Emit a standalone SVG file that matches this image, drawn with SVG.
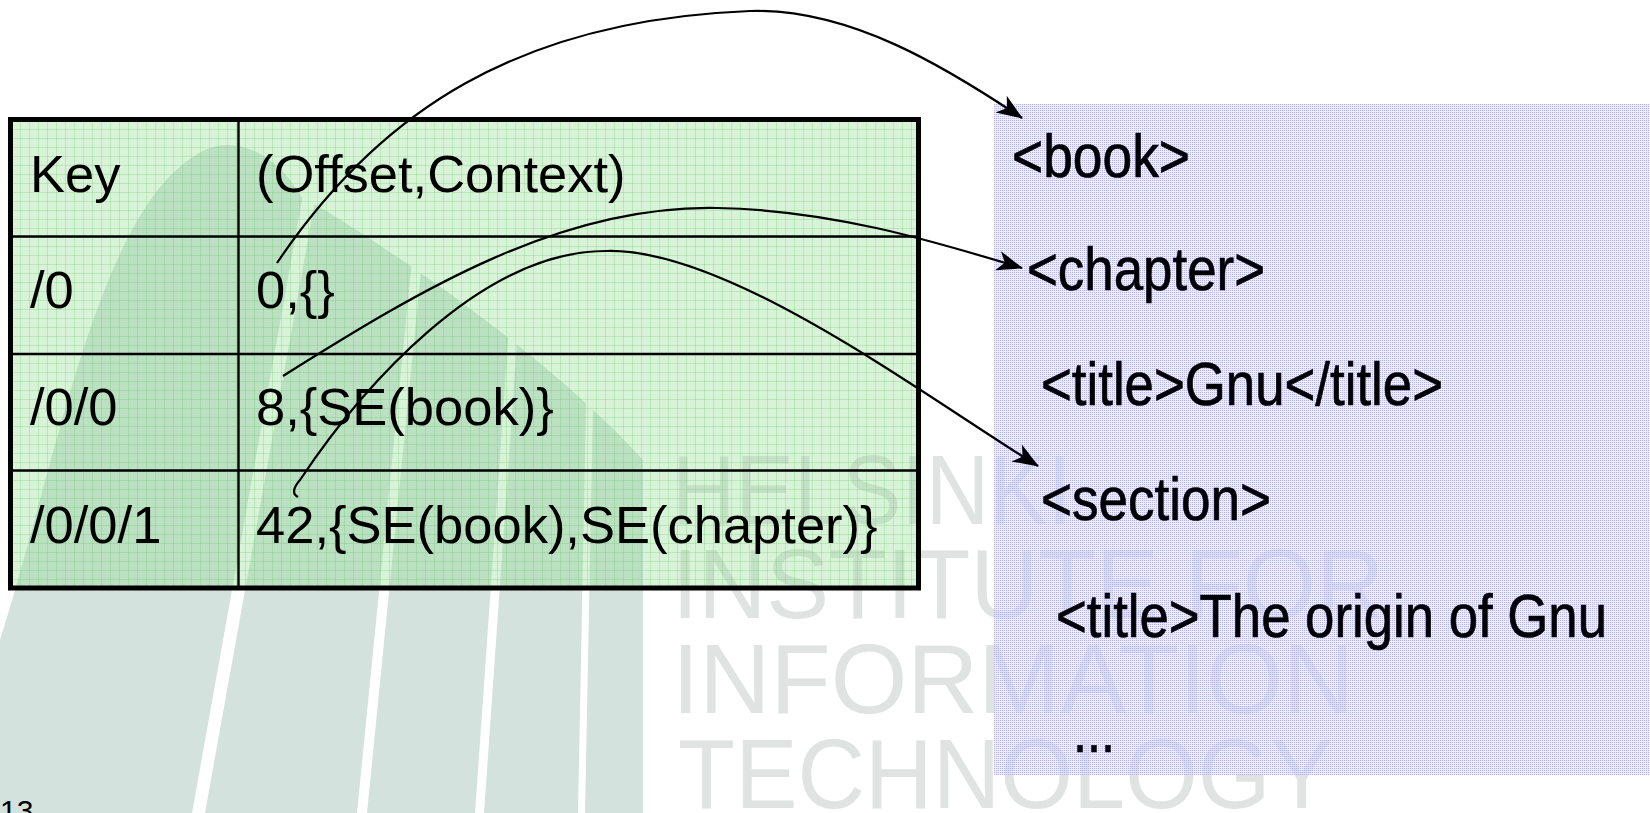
<svg xmlns="http://www.w3.org/2000/svg" width="1650" height="813" viewBox="0 0 1650 813">
  <defs>
    <style>
      .cell { font-family: "Liberation Sans", Arial, sans-serif; font-size: 52.5px; fill: #000; }
      .xml { font-family: "Liberation Sans Narrow", "Liberation Sans", Arial, sans-serif; font-size: 62px; fill: #000; stroke: #000; stroke-width: 0.7px; }
      .wm { font-family: "Liberation Sans", Arial, sans-serif; font-size: 99px; fill: #e0e3e2; }
      .logo { fill: #d3e2dc; }
      .gap { fill: #fff; }
      .rule { stroke: #000; stroke-width: 2.4; fill: none; }
      .link { fill: none; stroke: #000; stroke-width: 2.2; marker-end: url(#arrow); }
    </style>
    <!-- faint grid on the index table -->
    <pattern id="grid" width="9" height="9" patternUnits="userSpaceOnUse" x="11" y="120">
      <rect width="9" height="9" fill="rgb(138,218,138)" fill-opacity="0.33"/>
      <path d="M0,0.5 H9 M0.5,0 V9" stroke="rgb(110,205,110)" stroke-opacity="0.3" stroke-width="1"/>
    </pattern>
    <!-- dotted lavender fill for the document panel -->
    <pattern id="dots" width="2" height="2" patternUnits="userSpaceOnUse">
      <rect width="2" height="2" fill="rgb(224,224,250)" fill-opacity="0.6"/>
      <rect width="1" height="1" fill="#8f8fee" fill-opacity="0.62"/>
    </pattern>
    <marker id="arrow" viewBox="-27 -11 29 22" refX="0" refY="0" markerWidth="29" markerHeight="22" markerUnits="userSpaceOnUse" orient="auto">
      <path d="M1,0 L-25,-10 L-18,0 L-25,10 Z" fill="#000"/>
    </marker>
  </defs>

  <!-- backdrop: striped logo, watermark lettering, page number -->
  <g id="backdrop">
    <path class="logo" d="M0,640 C60,450 100,200 205,150 C245,132 285,165 303,200 L318,206 C420,268 560,368 643,460 L643,813 L0,813 Z"/>
    <polygon class="gap" points="192,813 205,813 333,100 320,100"/>
    <polygon class="gap" points="357,813 367,813 438,100 428,100"/>
    <polygon class="gap" points="475,813 484,813 534,100 525,100"/>
    <polygon class="gap" points="578,813 585,813 599,100 592,100"/>
    <text class="wm" x="672" y="524" textLength="400" lengthAdjust="spacingAndGlyphs">HELSINKI</text>
    <text class="wm" x="672" y="618" textLength="712" lengthAdjust="spacingAndGlyphs">INSTITUTE FOR</text>
    <text class="wm" x="672" y="713" textLength="682" lengthAdjust="spacingAndGlyphs">INFORMATION</text>
    <text class="wm" x="678" y="808" textLength="655" lengthAdjust="spacingAndGlyphs">TECHNOLOGY</text>
    <text x="0" y="821" font-family="Liberation Sans, Arial, sans-serif" font-size="30" fill="#000">13</text>
  </g>

  <!-- index table: key -> (offset, context) -->
  <g id="index-table">
    <rect x="10.5" y="119.5" width="908" height="468.5" fill="url(#grid)" stroke="#000" stroke-width="5"/>
    <line class="rule" x1="238.5" y1="119.5" x2="238.5" y2="588"/>
    <line class="rule" x1="10.5" y1="236.5" x2="918.5" y2="236.5"/>
    <line class="rule" x1="10.5" y1="354" x2="918.5" y2="354"/>
    <line class="rule" x1="10.5" y1="470.5" x2="918.5" y2="470.5"/>
    <g id="row-header">
      <text class="cell" x="30" y="192">Key</text>
      <text class="cell" x="256" y="192">(Offset,Context)</text>
    </g>
    <g id="row-0">
      <text class="cell" x="30" y="308">/0</text>
      <text class="cell" x="256" y="308">0,{}</text>
    </g>
    <g id="row-0-0">
      <text class="cell" x="30" y="425">/0/0</text>
      <text class="cell" x="256" y="425">8,{SE(book)}</text>
    </g>
    <g id="row-0-0-1">
      <text class="cell" x="30" y="543">/0/0/1</text>
      <text class="cell" x="256" y="543">42,{SE(book),SE(chapter)}</text>
    </g>
  </g>

  <!-- XML document panel -->
  <g id="xml-document">
    <rect x="994" y="104" width="656" height="671" fill="url(#dots)"/>
    <g id="tag-book"><text class="xml" x="1012" y="177" textLength="178" lengthAdjust="spacingAndGlyphs">&lt;book&gt;</text></g>
    <g id="tag-chapter"><text class="xml" x="1027" y="290" textLength="238" lengthAdjust="spacingAndGlyphs">&lt;chapter&gt;</text></g>
    <g id="tag-title-1"><text class="xml" x="1041" y="405" textLength="402" lengthAdjust="spacingAndGlyphs">&lt;title&gt;Gnu&lt;/title&gt;</text></g>
    <g id="tag-section"><text class="xml" x="1041" y="520" textLength="230" lengthAdjust="spacingAndGlyphs">&lt;section&gt;</text></g>
    <g id="tag-title-2"><text class="xml" x="1056" y="637" textLength="551" lengthAdjust="spacingAndGlyphs">&lt;title&gt;The origin of Gnu</text></g>
    <g id="ellipsis"><text class="xml" x="1073" y="752" textLength="42" lengthAdjust="spacingAndGlyphs">...</text></g>
  </g>

  <!-- offset pointers from table entries into the document -->
  <g id="connectors">
    <path class="link" d="M277,263 C380,110 520,20 750,11 C850,8 947,68 1022,118"/>
    <path class="link" d="M283,376 C420,290 560,205 717,208 C830,210 930,240 1022,268"/>
    <path class="link" d="M298,497 C292,494 293,488 300,480 C360,390 480,250 607,251 C730,248 930,400 1038,466"/>
  </g>
</svg>
